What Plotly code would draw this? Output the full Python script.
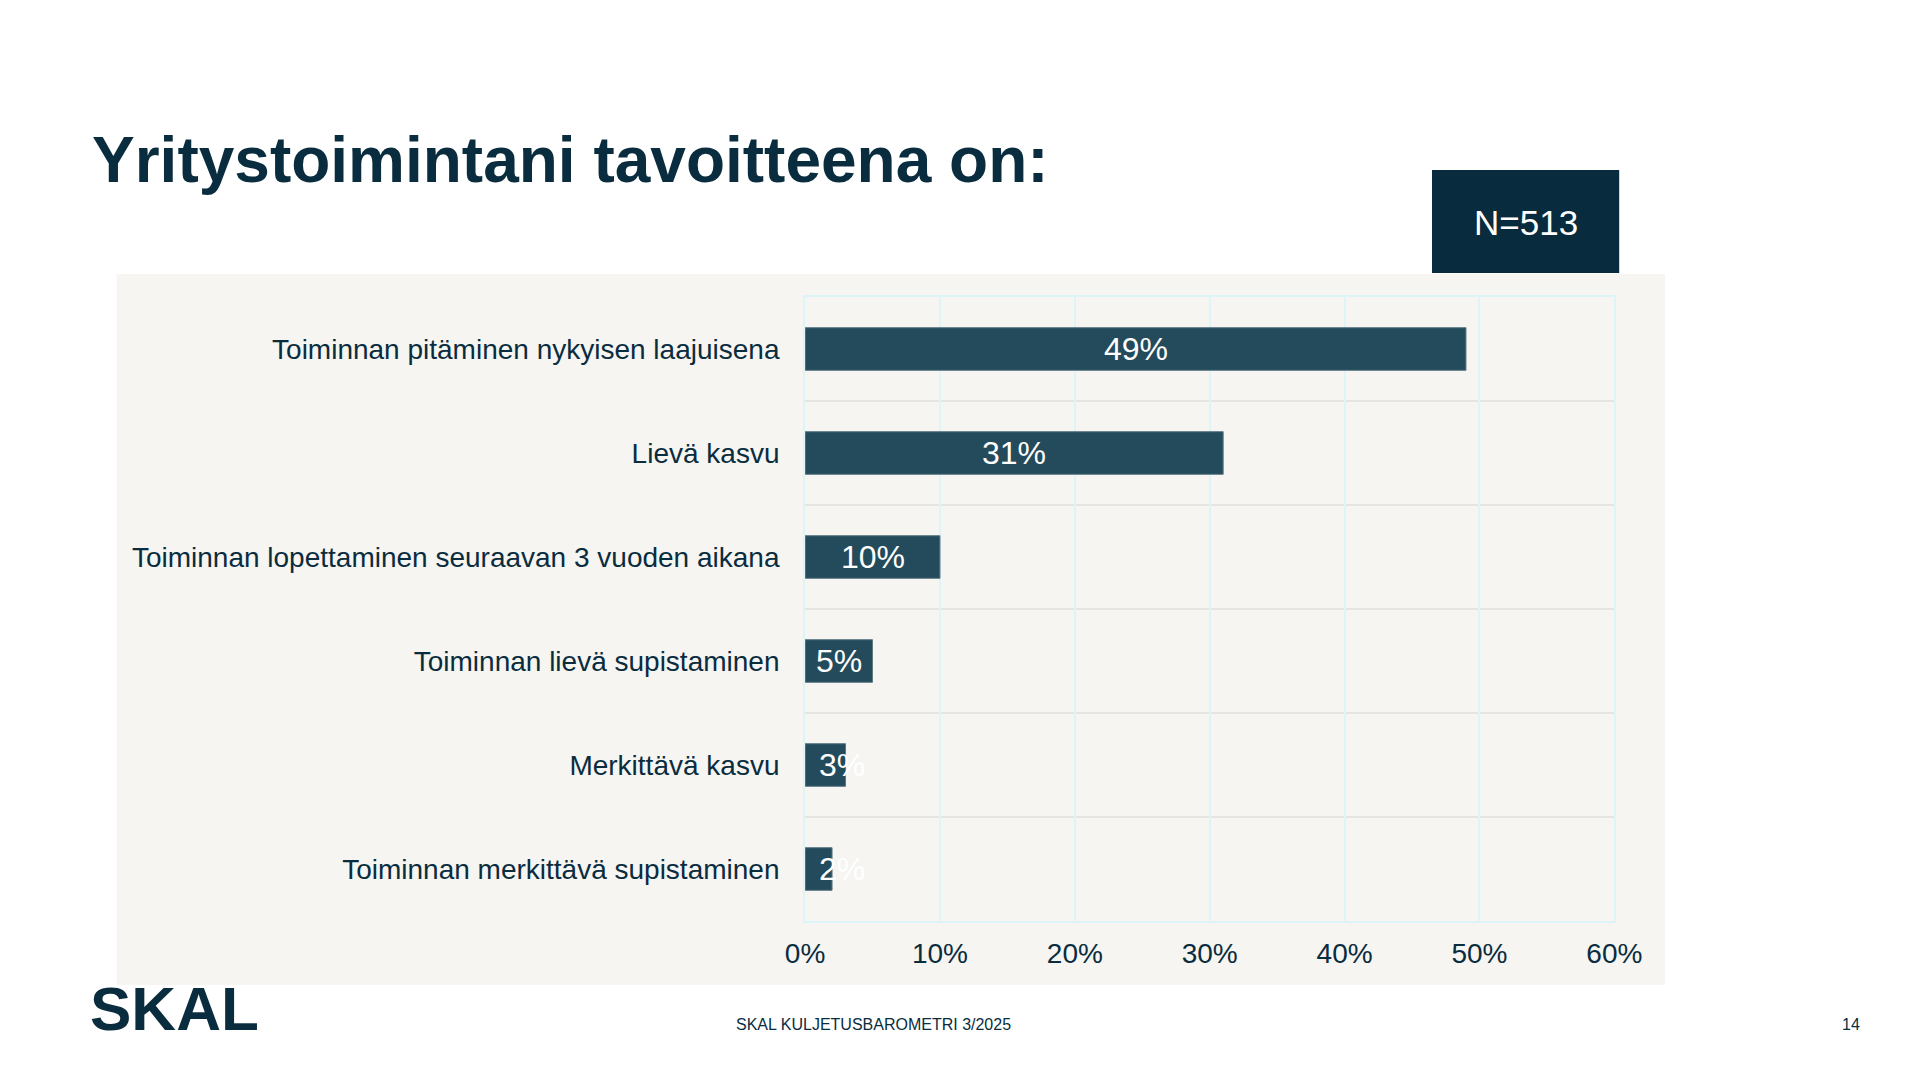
import plotly.graph_objects as go

categories = [
    "Toiminnan pitäminen nykyisen laajuisena",
    "Lievä kasvu",
    "Toiminnan lopettaminen seuraavan 3 vuoden aikana",
    "Toiminnan lievä supistaminen",
    "Merkittävä kasvu",
    "Toiminnan merkittävä supistaminen",
]
values = [49, 31, 10, 5, 3, 2]
tick_vals = [0, 10, 20, 30, 40, 50, 60]
tick_text = ["0%", "10%", "20%", "30%", "40%", "50%", "60%"]
title_text = "Yritystoimintani tavoitteena on:"
n_text = "N=513"
footer_text = "SKAL KULJETUSBAROMETRI 3/2025"
page_no = "14"

W, H = 1920, 1080
NAVY = "#0A2C3F"
BAR = "#234B5B"
PANEL = "#F6F5F1"
GRID = "#DDF5F9"
SEP = "#E4E4E2"
FONT = "Liberation Sans, Arial, sans-serif"

def px(x):
    return x / W

def py(y):
    return 1 - y / H

x_dom = [px(797), px(1627)]
y_dom = [py(913), py(289)]
x_range = [0, 60]

fig = go.Figure()
fig.add_trace(go.Bar(
    x=values, y=categories, orientation="h",
    marker=dict(color=BAR, line=dict(color="#5E7884", width=1)),
    width=0.41, hoverinfo="skip",
))

# value labels (centered in bar, or left-aligned when the bar is too narrow)
label_size = 32
plot_w_px = (x_dom[1] - x_dom[0]) * W
annotations = []
for cat, v in zip(categories, values):
    txt = f"{v}%"
    tw = (0.556 * len(str(v)) + 0.889) * label_size
    bar_px = v / (x_range[1] - x_range[0]) * plot_w_px
    if tw + 10 > bar_px:
        annotations.append(dict(x=0, y=cat, xref="x", yref="y", text=txt,
                                showarrow=False, xanchor="left", xshift=12,
                                font=dict(family=FONT, size=label_size, color="white")))
    else:
        annotations.append(dict(x=v / 2, y=cat, xref="x", yref="y", text=txt,
                                showarrow=False, xanchor="center",
                                font=dict(family=FONT, size=label_size, color="white")))

annotations += [
    dict(x=px(64), y=py(152), xref="paper", yref="paper", text=f"<b>{title_text}</b>",
         showarrow=False, xanchor="left", yanchor="middle",
         font=dict(family=FONT, size=64, color=NAVY)),
    dict(x=px(1536), y=py(214), xref="paper", yref="paper", text=n_text,
         showarrow=False, xanchor="center", yanchor="middle",
         font=dict(family=FONT, size=35, color="white")),
    dict(x=px(867), y=py(1016), xref="paper", yref="paper", text=footer_text,
         showarrow=False, xanchor="center", yanchor="middle",
         font=dict(family=FONT, size=16, color=NAVY)),
    dict(x=px(1870), y=py(1016), xref="paper", yref="paper", text=page_no,
         showarrow=False, xanchor="center", yanchor="middle",
         font=dict(family=FONT, size=16, color=NAVY)),
    dict(x=px(62), y=py(1000), xref="paper", yref="paper", text="<b>SKAL</b>",
         showarrow=False, xanchor="left", yanchor="middle",
         font=dict(family=FONT, size=62, color=NAVY)),
]

shapes = [
    dict(type="rect", xref="paper", yref="paper", x0=px(91), x1=px(1679),
         y0=py(977), y1=py(266), fillcolor=PANEL, line=dict(width=0), layer="below"),
    dict(type="rect", xref="paper", yref="paper", x0=px(1440), x1=px(1632),
         y0=py(265), y1=py(162), fillcolor="#082B3D", line=dict(width=0), layer="above"),
]
for k in range(1, len(categories)):
    shapes.append(dict(type="line", xref="x domain", yref="y", x0=0, x1=1,
                       y0=k - 0.5, y1=k - 0.5, line=dict(color=SEP, width=2), layer="below"))

fig.update_layout(
    width=W, height=H,
    margin=dict(l=0, r=0, t=0, b=0),
    paper_bgcolor="white", plot_bgcolor="rgba(0,0,0,0)",
    showlegend=False,
    bargap=0.59,
    font=dict(family=FONT, color=NAVY),
    annotations=annotations, shapes=shapes,
    xaxis=dict(domain=x_dom, range=x_range, tickvals=tick_vals, ticktext=tick_text,
               showgrid=True, gridcolor=GRID, gridwidth=2, zeroline=False,
               showline=True, mirror=True, linecolor=GRID, linewidth=2,
               ticks="", ticklabelstandoff=6,
               tickfont=dict(family=FONT, size=28, color=NAVY), fixedrange=True),
    yaxis=dict(domain=y_dom, autorange="reversed", showgrid=False, zeroline=False,
               showline=True, mirror=True, linecolor=GRID, linewidth=2,
               ticks="", ticklabelstandoff=18,
               tickfont=dict(family=FONT, size=28, color=NAVY), fixedrange=True),
)

fig.write_html("out.html")
